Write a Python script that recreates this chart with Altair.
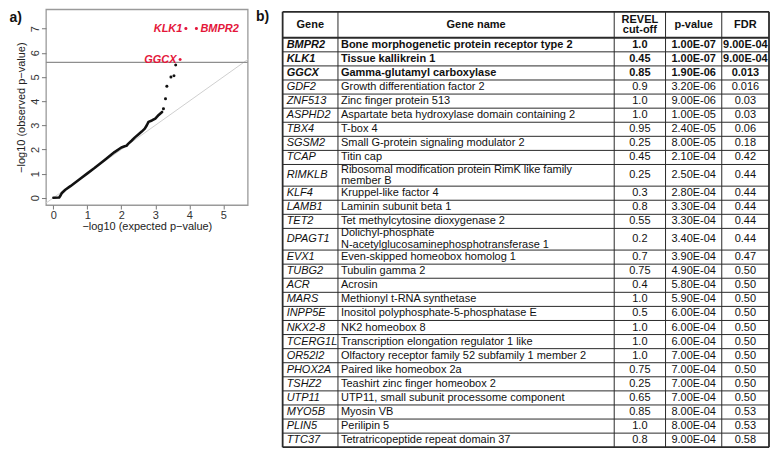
import textwrap
import pandas as pd
import altair as alt

# ------------------------------------------------------------------ data
genes = ["BMPR2", "KLK1", "GGCX", "GDF2", "ZNF513", "ASPHD2", "TBX4", "SGSM2",
         "TCAP", "RIMKLB", "KLF4", "LAMB1", "TET2", "DPAGT1", "EVX1", "TUBG2",
         "ACR", "MARS", "INPP5E", "NKX2-8", "TCERG1L", "OR52I2", "PHOX2A",
         "TSHZ2", "UTP11", "MYO5B", "PLIN5", "TTC37"]
gene_names = [
    "Bone morphogenetic protein receptor type 2",
    "Tissue kallikrein 1",
    "Gamma-glutamyl carboxylase",
    "Growth differentiation factor 2",
    "Zinc finger protein 513",
    "Aspartate beta hydroxylase domain containing 2",
    "T-box 4",
    "Small G-protein signaling modulator 2",
    "Titin cap",
    "Ribosomal modification protein RimK like family member B",
    "Kruppel-like factor 4",
    "Laminin subunit beta 1",
    "Tet methylcytosine dioxygenase 2",
    "Dolichyl-phosphate N-acetylglucosaminephosphotransferase 1",
    "Even-skipped homeobox homolog 1",
    "Tubulin gamma 2",
    "Acrosin",
    "Methionyl t-RNA synthetase",
    "Inositol polyphosphate-5-phosphatase E",
    "NK2 homeobox 8",
    "Transcription elongation regulator 1 like",
    "Olfactory receptor family 52 subfamily 1 member 2",
    "Paired like homeobox 2a",
    "Teashirt zinc finger homeobox 2",
    "UTP11, small subunit processome component",
    "Myosin VB",
    "Perilipin 5",
    "Tetratricopeptide repeat domain 37",
]
revel_cutoff = ["1.0", "0.45", "0.85", "0.9", "1.0", "1.0", "0.95", "0.25", "0.45",
                "0.25", "0.3", "0.8", "0.55", "0.2", "0.7", "0.75", "0.4", "1.0",
                "0.5", "1.0", "1.0", "1.0", "0.75", "0.25", "0.65", "0.85", "1.0", "0.8"]
p_values = ["1.00E-07", "1.00E-07", "1.90E-06", "3.20E-06", "9.00E-06", "1.00E-05",
            "2.40E-05", "8.00E-05", "2.10E-04", "2.50E-04", "2.80E-04", "3.30E-04",
            "3.30E-04", "3.40E-04", "3.90E-04", "4.90E-04", "5.80E-04", "5.90E-04",
            "6.00E-04", "6.00E-04", "6.00E-04", "7.00E-04", "7.00E-04", "7.00E-04",
            "7.00E-04", "8.00E-04", "8.00E-04", "9.00E-04"]
fdr_values = ["9.00E-04", "9.00E-04", "0.013", "0.016", "0.03", "0.03", "0.06", "0.18",
              "0.42", "0.44", "0.44", "0.44", "0.44", "0.44", "0.47", "0.50", "0.50",
              "0.50", "0.50", "0.50", "0.50", "0.50", "0.50", "0.50", "0.50", "0.53",
              "0.53", "0.58"]
header_labels = [["Gene"], ["Gene name"], ["REVEL", "cut-off"], ["p-value"], ["FDR"]]

# QQ plot: dense part of the curve
curve_expected = [0.0, 0.17, 0.19, 0.25, 0.35, 0.5, 0.8, 1.0, 1.2, 1.5, 1.8, 2.0,
                  2.1, 2.15, 2.2, 2.3, 2.4, 2.5, 2.6, 2.69, 2.75, 2.8, 2.9, 3.0,
                  3.1, 3.2]
curve_observed = [0.0, 0.01, 0.05, 0.2, 0.33, 0.48, 0.8, 1.01, 1.22, 1.55, 1.89, 2.08,
                  2.13, 2.15, 2.23, 2.36, 2.5, 2.62, 2.74, 2.86, 3.0, 3.14, 3.2, 3.28,
                  3.43, 3.55]
# QQ plot: separate top points
top_genes = ["BMPR2", "KLK1", "GGCX", "GDF2", "ZNF513", "ASPHD2", "TBX4", "SGSM2", "TCAP"]
top_expected = [4.21, 3.90, 3.73, 3.60, 3.55, 3.46, 3.34, 3.30, 3.24]
top_observed = [7.0, 7.0, 5.72, 5.49, 5.05, 5.0, 4.62, 4.10, 3.68]
threshold = 5.6
diag_ends = [-1.0, 9.0]

# ------------------------------------------------------------------ style / layout
FONT = "Liberation Sans"
RED = "#e4163a"
INK = "#111111"
LABEL_RIGHT = ["BMPR2"]

QQ_W, QQ_H = 202, 196

TABLE_W, TABLE_H = 517, 440
COL_EDGES = [29.0, 84.4, 361.0, 412.4, 468.7, 516.0]
TABLE_TOP = 2.5
HEADER_H = 26.0
ROW_H = 14.1
LINE_EXTRA = 7.6
LINE_H = 11.6
HEADER_LINE_H = 10.5
WRAP = 50
CELL_PAD_GENE = 4.0
CELL_PAD_NAME = 3.0
TFS = 11

# ------------------------------------------------------------------ QQ panel
xq = alt.Scale(domain=[-0.22, 5.72], nice=False, zero=False)
yq = alt.Scale(domain=[-0.3, 7.8], nice=False, zero=False)
x_axis = alt.Axis(values=[0, 1, 2, 3, 4, 5], title="\u2212log10 (expected p\u2212value)",
                  grid=False, domain=False, tickColor="#777777", tickSize=4,
                  labelFont=FONT, labelFontSize=11, labelColor="#333333", labelPadding=0,
                  titleFont=FONT, titleFontSize=11, titleFontWeight="normal",
                  titleColor="#222222", titleBaseline="middle", titleY=21.5)
y_axis = alt.Axis(values=[0, 1, 2, 3, 4, 5, 6, 7], title="\u2212log10 (observed p\u2212value)",
                  grid=False, domain=False, tickColor="#777777", tickSize=4.5,
                  labelFont=FONT, labelFontSize=11, labelColor="#333333", labelPadding=1,
                  labelAngle=270, labelAlign="center", labelBaseline="bottom",
                  titleFont=FONT, titleFontSize=11, titleFontWeight="normal",
                  titleColor="#222222", titlePadding=3)


def qx():
    return alt.X("x:Q", scale=xq, axis=x_axis)


def qy():
    return alt.Y("y:Q", scale=yq, axis=y_axis)


diag_df = pd.DataFrame({"x": diag_ends, "y": diag_ends})
thr_df = pd.DataFrame({"y": [threshold]})
curve_df = pd.DataFrame({"x": curve_expected, "y": curve_observed})
top_df = pd.DataFrame({"x": top_expected, "y": top_observed, "gene": top_genes})
top_df["sig"] = top_df["y"] > threshold
top_df["right"] = top_df["gene"].isin(LABEL_RIGHT)

diag = alt.Chart(diag_df).mark_line(color="#cfcfcf", strokeWidth=1, clip=True).encode(x=qx(), y=qy())
thr = alt.Chart(thr_df).mark_rule(color="#8e8e8e", strokeWidth=1.3).encode(y=qy())
curve = alt.Chart(curve_df).mark_line(color=INK, strokeWidth=2.6, strokeCap="round",
                                      strokeJoin="round").encode(x=qx(), y=qy())
pts = alt.Chart(top_df[~top_df["sig"]]).mark_circle(size=9, color=INK, opacity=1).encode(x=qx(), y=qy())
red_pts = alt.Chart(top_df[top_df["sig"]]).mark_circle(size=9, color=RED, opacity=1).encode(x=qx(), y=qy())
lab_left = alt.Chart(top_df[top_df["sig"] & ~top_df["right"]]).mark_text(
    align="right", baseline="middle", dx=-3.5, font=FONT, fontSize=11, fontWeight="bold",
    fontStyle="italic", color=RED).encode(x=qx(), y=qy(), text="gene:N")
lab_right = alt.Chart(top_df[top_df["sig"] & top_df["right"]]).mark_text(
    align="left", baseline="middle", dx=4, font=FONT, fontSize=11, fontWeight="bold",
    fontStyle="italic", color=RED).encode(x=qx(), y=qy(), text="gene:N")
panel_a = alt.Chart(pd.DataFrame({"label": ["a)"]})).mark_text(
    align="left", baseline="middle", font=FONT, fontSize=14, fontWeight="bold", color=INK
).encode(x=alt.value(-36.6), y=alt.value(8.7), text="label:N")

qq = alt.layer(diag, thr, curve, pts, red_pts, lab_left, lab_right, panel_a).properties(
    width=QQ_W, height=QQ_H, view=alt.ViewBackground(stroke="#9a9a9a", strokeWidth=1.3))

# ------------------------------------------------------------------ table panel
xs = alt.Scale(domain=[0, TABLE_W], nice=False, zero=False)
ys = alt.Scale(domain=[0, TABLE_H], reverse=True, nice=False, zero=False)

name_lines = [textwrap.wrap(n, WRAP) for n in gene_names]
heights = [ROW_H + (len(l) - 1) * LINE_EXTRA for l in name_lines]
tops = []
cur = TABLE_TOP + HEADER_H
for h in heights:
    tops.append(cur)
    cur += h
bottom = cur
sig_rows = [float(p) < 10 ** (-threshold) for p in p_values]

centers = [(COL_EDGES[i] + COL_EDGES[i + 1]) / 2 for i in range(5)]
anchor_x = [COL_EDGES[0] + CELL_PAD_GENE, COL_EDGES[1] + CELL_PAD_NAME,
            centers[2], centers[3], centers[4]]


def line_records(lines, x, yc, lh, extra):
    n = len(lines)
    out = []
    for k, ln in enumerate(lines):
        rec = {"text": ln, "x": x, "y": yc + (k - (n - 1) / 2) * lh}
        rec.update(extra)
        out.append(rec)
    return out


records = []
for i in range(len(genes)):
    yc = tops[i] + heights[i] / 2
    vals = [[genes[i]], name_lines[i], [revel_cutoff[i]], [p_values[i]], [fdr_values[i]]]
    for c, v in enumerate(vals):
        records += line_records(v, anchor_x[c], yc, LINE_H, {"col": c, "bold": sig_rows[i]})
cells = pd.DataFrame(records)

hdr = []
for c, v in enumerate(header_labels):
    hdr += line_records(v, centers[c], TABLE_TOP + HEADER_H / 2, HEADER_LINE_H, {"col": c})
header_df = pd.DataFrame(hdr)

h_y = [TABLE_TOP, TABLE_TOP + HEADER_H] + [t + h for t, h in zip(tops, heights)]
h_w = [1.8, 1.8] + [1.0] * (len(h_y) - 3) + [1.8]
hlines = pd.DataFrame({"y": h_y, "x": COL_EDGES[0], "x2": COL_EDGES[-1], "w": h_w})
vlines = pd.DataFrame({"x": COL_EDGES, "y": TABLE_TOP, "y2": bottom,
                       "w": [1.8, 1.0, 1.0, 1.0, 1.0, 1.8]})


def tx(f="x"):
    return alt.X(f"{f}:Q", scale=xs, axis=None)


def ty(f="y"):
    return alt.Y(f"{f}:Q", scale=ys, axis=None)


hrule = alt.Chart(hlines).mark_rule(color="#2a2a2a").encode(
    x=tx(), x2="x2:Q", y=ty(), strokeWidth=alt.StrokeWidth("w:Q", scale=None, legend=None))
vrule = alt.Chart(vlines).mark_rule(color="#2a2a2a").encode(
    x=tx(), y=ty(), y2="y2:Q", strokeWidth=alt.StrokeWidth("w:Q", scale=None, legend=None))


def text_layer(df, align, weight, style):
    return alt.Chart(df).mark_text(
        align=align, baseline="middle", font=FONT, fontSize=TFS, fontWeight=weight,
        fontStyle=style, color=INK
    ).encode(x=tx(), y=ty(), text="text:N")


c0b = cells[(cells.col == 0) & cells.bold]
c0n = cells[(cells.col == 0) & ~cells.bold]
c1b = cells[(cells.col == 1) & cells.bold]
c1n = cells[(cells.col == 1) & ~cells.bold]
cnb = cells[(cells.col >= 2) & cells.bold]
cnn = cells[(cells.col >= 2) & ~cells.bold]

panel_b = alt.Chart(pd.DataFrame({"label": ["b)"]})).mark_text(
    align="left", baseline="middle", font=FONT, fontSize=14, fontWeight="bold", color=INK
).encode(x=alt.value(2.4), y=alt.value(7.8), text="label:N")

table = alt.layer(
    hrule, vrule,
    text_layer(header_df, "center", "bold", "normal"),
    text_layer(c0b, "left", "bold", "italic"),
    text_layer(c0n, "left", "normal", "italic"),
    text_layer(c1b, "left", "bold", "normal"),
    text_layer(c1n, "left", "normal", "normal"),
    text_layer(cnb, "center", "bold", "normal"),
    text_layer(cnn, "center", "normal", "normal"),
    panel_b,
).properties(width=TABLE_W, height=TABLE_H, view=alt.ViewBackground(strokeOpacity=0))

chart = alt.hconcat(qq, table, spacing=6, bounds="flush").properties(
    padding=0, background="white"
).configure(font=FONT)

chart.save("out.html", embed_options={"renderer": "svg", "actions": False})
